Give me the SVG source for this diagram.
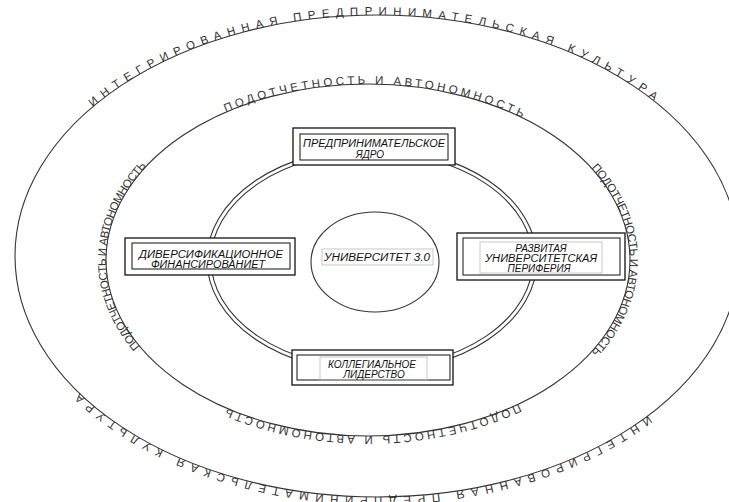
<svg xmlns="http://www.w3.org/2000/svg" width="729" height="502" viewBox="0 0 729 502">
<style>
.ring{fill:none;stroke:#333;stroke-width:1.1}
.frame{fill:#fff;stroke:#111;stroke-width:1.3}
.inner{fill:none;stroke:#111;stroke-width:1}
.lite{fill:none;stroke:#bbb;stroke-width:0.8}
.lbl{font-family:"Liberation Sans",Arial,sans-serif;font-style:italic;font-size:10px;fill:#111;text-anchor:middle}
.arc{font-family:"Liberation Sans",Arial,sans-serif;font-size:11.5px;fill:#333;text-anchor:middle}
</style>
<defs>
<path id="pOuter" d="M 15 256 A 362 241 0 0 1 377 15 A 362 241 0 0 1 739 256 A 362 241 0 0 1 377 497 A 362 241 0 0 1 15 256 A 362 241 0 0 1 377 15 A 362 241 0 0 1 739 256"/>
<path id="pMid" d="M 106 260 A 262 176 0 0 1 368 84 A 262 176 0 0 1 630 260 A 262 176 0 0 1 368 436 A 262 176 0 0 1 106 260 A 262 176 0 0 1 368 84 A 262 176 0 0 1 630 260"/>
</defs>
<rect width="729" height="502" fill="#fff"/>
<g id="rings">
<ellipse class="ring" cx="377" cy="256" rx="362" ry="241"/>
<ellipse class="ring" cx="368" cy="260" rx="262" ry="176"/>
<ellipse class="ring" cx="372" cy="260" rx="161" ry="108"/>
<ellipse class="ring" cx="372" cy="260" rx="165" ry="112"/>
</g>
<g id="outer-labels">
<text class="arc" font-size="12.5"><textPath href="#pOuter" startOffset="16.5%" textLength="600" lengthAdjust="spacing">ИНТЕГРИРОВАННАЯ  ПРЕДПРИНИМАТЕЛЬСКАЯ  КУЛЬТУРА</textPath></text>
<text class="arc" font-size="12.5"><textPath href="#pOuter" startOffset="50.6%" textLength="610" lengthAdjust="spacing">ИНТЕГРИРОВАННАЯ  ПРЕДПРИНИМАТЕЛЬСКАЯ  КУЛЬТУРА</textPath></text>
</g>
<g id="middle-labels">
<text class="arc"><textPath href="#pMid" startOffset="16.98%" textLength="305" lengthAdjust="spacing">ПОДОТЧЕТНОСТЬ И АВТОНОМНОСТЬ</textPath></text>
<text class="arc"><textPath href="#pMid" startOffset="33.33%" textLength="205" lengthAdjust="spacing">ПОДОТЧЕТНОСТЬ И АВТОНОМНОСТЬ</textPath></text>
<text class="arc"><textPath href="#pMid" startOffset="49.74%" textLength="300" lengthAdjust="spacing">ПОДОТЧЕТНОСТЬ И АВТОНОМНОСТЬ</textPath></text>
<text class="arc"><textPath href="#pMid" startOffset="66.9%" textLength="200" lengthAdjust="spacing">ПОДОТЧЕТНОСТЬ И АВТОНОМНОСТЬ</textPath></text>
</g>
<g id="node-university">
<ellipse class="ring" cx="375" cy="262" rx="64" ry="50" style="fill:#fff"/>
<rect class="lite" x="322" y="249" width="111" height="16"/>
<text class="lbl" x="377" y="261" textLength="106" lengthAdjust="spacingAndGlyphs">УНИВЕРСИТЕТ  3.0</text>
</g>
<g id="node-core">
<rect class="frame" x="293" y="128" width="162" height="37"/>
<rect class="inner" x="300" y="134" width="148" height="26"/>
<text class="lbl" x="374" y="147" textLength="142" lengthAdjust="spacingAndGlyphs">ПРЕДПРИНИМАТЕЛЬСКОЕ</text>
<text class="lbl" x="370" y="158">ЯДРО</text>
</g>
<g id="node-finance">
<rect class="frame" x="125" y="238" width="170" height="37"/>
<rect class="inner" x="132" y="243" width="158" height="26"/>
<text class="lbl" x="211" y="258" textLength="144" lengthAdjust="spacingAndGlyphs">ДИВЕРСИФИКАЦИОННОЕ</text>
<text class="lbl" x="208" y="268" textLength="114" lengthAdjust="spacingAndGlyphs">ФИНАНСИРОВАНИЕТ</text>
</g>
<g id="node-periphery">
<rect class="frame" x="457" y="233" width="168" height="47"/>
<rect class="inner" x="463" y="238" width="157" height="37"/>
<rect class="lite" x="480" y="242" width="122" height="31"/>
<text class="lbl" x="541" y="252">РАЗВИТАЯ</text>
<text class="lbl" x="541" y="262" textLength="112" lengthAdjust="spacingAndGlyphs">УНИВЕРСИТЕТСКАЯ</text>
<text class="lbl" x="539" y="272">ПЕРИФЕРИЯ</text>
</g>
<g id="node-leadership">
<rect class="frame" x="292" y="350" width="161" height="35"/>
<rect class="inner" x="297" y="355" width="153" height="25"/>
<rect class="lite" x="320" y="357" width="107" height="23"/>
<text class="lbl" x="372" y="368">КОЛЛЕГИАЛЬНОЕ</text>
<text class="lbl" x="374" y="378">ЛИДЕРСТВО</text>
</g>
</svg>
